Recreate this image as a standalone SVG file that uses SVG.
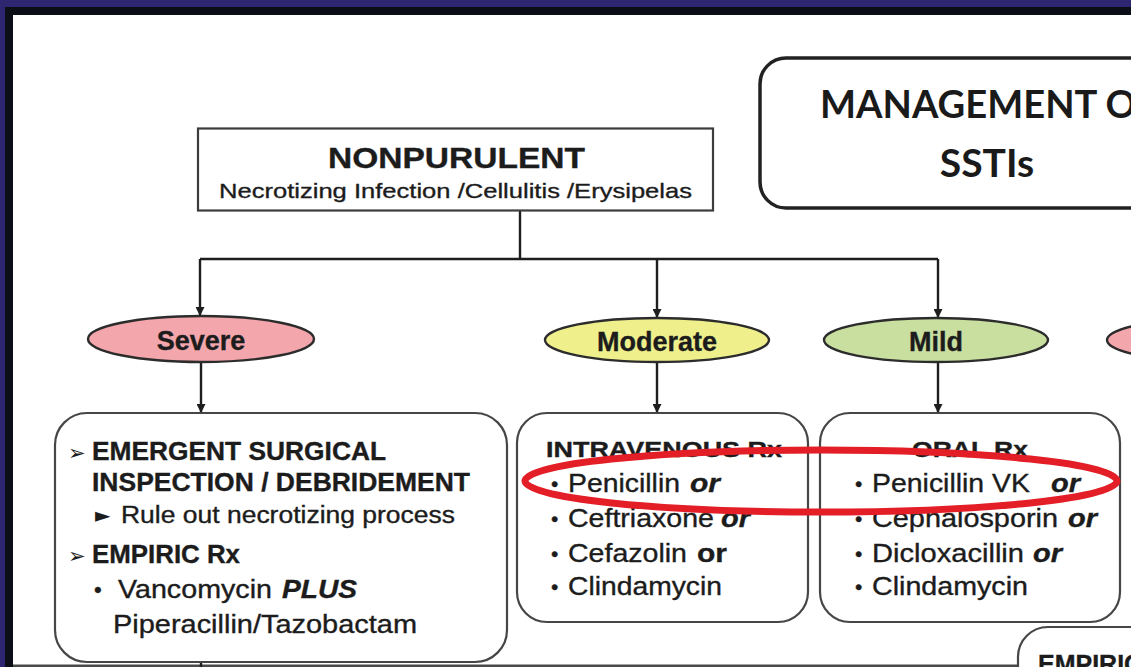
<svg xmlns="http://www.w3.org/2000/svg" width="1131" height="667" viewBox="0 0 1131 667">
  <defs>
    <marker id="arrow" viewBox="0 0 10 10" refX="10" refY="5" markerWidth="9" markerHeight="9" markerUnits="userSpaceOnUse" orient="auto">
      <path d="M0,0 L10,5 L0,10 Z" fill="#1e1e1e"/>
    </marker>
    <style>
      .frame-outer { fill: #2f2672; }
      .frame-inner { fill: #0b0e17; }
      .sheet { fill: #ffffff; }
      .title-box { fill: #ffffff; stroke: #222222; stroke-width: 3.5; }
      .head-box { fill: #ffffff; stroke: #3c3c3c; stroke-width: 2.2; }
      .rx-box { fill: #ffffff; stroke: #464646; stroke-width: 2.2; }
      .grade { stroke: #2c2c2c; stroke-width: 2.4; }
      .wire { fill: none; stroke: #1e1e1e; stroke-width: 2.4; }
      .mark { fill: none; stroke: #e31e26; stroke-width: 7; }
      .title { font-family: Lato, "Open Sans", sans-serif; font-weight: 700; font-size: 39px; fill: #1a1a1a; }
      .t { font-family: "Liberation Sans", Arial, sans-serif; fill: #1c1c1c; stroke: #1c1c1c; stroke-width: 0.35; }
      .b { font-weight: 700; }
      .bi { font-weight: 700; font-style: italic; }
      .sym { font-family: "DejaVu Sans", sans-serif; fill: #1c1c1c; }
    </style>
  </defs>

  <!-- slide frame -->
  <rect class="frame-outer" x="0" y="0" width="1131" height="667"/>
  <rect class="frame-inner" x="5" y="7" width="1126" height="660"/>
  <rect class="sheet" x="13" y="15" width="1118" height="650"/>
  <rect x="13" y="664.5" width="1118" height="2.5" fill="#4a4a4a"/>

  <!-- connectors -->
  <g id="connectors">
    <path class="wire" d="M520,210 V259"/>
    <path class="wire" d="M200,259 H938"/>
    <path class="wire" d="M200,259 V316" marker-end="url(#arrow)"/>
    <path class="wire" d="M657,259 V318" marker-end="url(#arrow)"/>
    <path class="wire" d="M938,259 V318" marker-end="url(#arrow)"/>
    <path class="wire" d="M201,362 V413" marker-end="url(#arrow)"/>
    <path class="wire" d="M657,362 V413" marker-end="url(#arrow)"/>
    <path class="wire" d="M938,362 V413" marker-end="url(#arrow)"/>
    <path class="wire" d="M201,662 V667"/>
  </g>

  <!-- title -->
  <g id="title">
    <rect class="title-box" x="760" y="58" width="460" height="150" rx="26"/>
    <text class="title" x="820" y="118" textLength="338" lengthAdjust="spacingAndGlyphs">MANAGEMENT OF</text>
    <text class="title" x="987" y="177" text-anchor="middle">SSTIs</text>
  </g>

  <!-- nonpurulent header -->
  <g id="nonpurulent">
    <rect class="head-box" x="198" y="128.5" width="515" height="82"/>
    <text class="t b" x="328" y="168" font-size="30" textLength="257" lengthAdjust="spacingAndGlyphs">NONPURULENT</text>
    <text class="t" x="219" y="198" font-size="21" textLength="473" lengthAdjust="spacingAndGlyphs">Necrotizing Infection /Cellulitis /Erysipelas</text>
  </g>

  <!-- severity grades -->
  <g id="severe">
    <ellipse class="grade" cx="201" cy="339" rx="113" ry="23" fill="#f3a6ab"/>
    <text class="t b" x="201" y="350" font-size="27" text-anchor="middle" fill="#2a1414">Severe</text>
  </g>
  <g id="moderate">
    <ellipse class="grade" cx="657" cy="340" rx="112" ry="22" fill="#eff08c"/>
    <text class="t b" x="657" y="351" font-size="27" text-anchor="middle" fill="#1e1e08">Moderate</text>
  </g>
  <g id="mild">
    <ellipse class="grade" cx="936" cy="340" rx="112" ry="22" fill="#c9dfa0"/>
    <text class="t b" x="936" y="351" font-size="27" text-anchor="middle" fill="#10240e">Mild</text>
  </g>
  <g id="purulent-severe">
    <ellipse class="grade" cx="1220" cy="340" rx="113" ry="22" fill="#f3a6ab"/>
  </g>

  <!-- severe treatment -->
  <g id="severe-rx">
    <rect class="rx-box" x="55" y="413" width="452" height="249" rx="32"/>
    <text class="sym" x="68" y="460" font-size="21">➢</text>
    <text class="t b" x="92" y="460" font-size="25" textLength="294" lengthAdjust="spacingAndGlyphs">EMERGENT SURGICAL</text>
    <text class="t b" x="92" y="491" font-size="25" textLength="378" lengthAdjust="spacingAndGlyphs">INSPECTION / DEBRIDEMENT</text>
    <text class="sym" x="95" y="522" font-size="20">►</text>
    <text class="t" x="121" y="523" font-size="23" textLength="334" lengthAdjust="spacingAndGlyphs">Rule out necrotizing process</text>
    <text class="sym" x="68" y="563" font-size="21">➢</text>
    <text class="t b" x="92" y="563" font-size="25" textLength="148" lengthAdjust="spacingAndGlyphs">EMPIRIC Rx</text>
    <text class="t" x="94" y="597" font-size="22">•</text>
    <text class="t" x="118" y="598" font-size="25" textLength="154" lengthAdjust="spacingAndGlyphs">Vancomycin</text>
    <text class="t bi" x="282" y="598" font-size="25" textLength="75" lengthAdjust="spacingAndGlyphs">PLUS</text>
    <text class="t" x="113" y="633" font-size="25" textLength="304" lengthAdjust="spacingAndGlyphs">Piperacillin/Tazobactam</text>
  </g>

  <!-- moderate treatment -->
  <g id="moderate-rx">
    <rect class="rx-box" x="517" y="413" width="291" height="209" rx="30"/>
    <text class="t b" x="546" y="457" font-size="22" textLength="236" lengthAdjust="spacingAndGlyphs">INTRAVENOUS Rx</text>
    <text class="t" x="551" y="491" font-size="21">•</text>
    <text class="t" x="568" y="492" font-size="25" textLength="112" lengthAdjust="spacingAndGlyphs">Penicillin</text>
    <text class="t bi" x="690" y="492" font-size="25" textLength="30" lengthAdjust="spacingAndGlyphs">or</text>
    <text class="t" x="551" y="526" font-size="21">•</text>
    <text class="t" x="568" y="527" font-size="25" textLength="146" lengthAdjust="spacingAndGlyphs">Ceftriaxone</text>
    <text class="t bi" x="721" y="527" font-size="25" textLength="29" lengthAdjust="spacingAndGlyphs">or</text>
    <text class="t" x="551" y="561" font-size="21">•</text>
    <text class="t" x="568" y="562" font-size="25" textLength="119" lengthAdjust="spacingAndGlyphs">Cefazolin</text>
    <text class="t b" x="697" y="562" font-size="25" textLength="30" lengthAdjust="spacingAndGlyphs">or</text>
    <text class="t" x="551" y="594" font-size="21">•</text>
    <text class="t" x="568" y="595" font-size="25" textLength="154" lengthAdjust="spacingAndGlyphs">Clindamycin</text>
  </g>

  <!-- mild treatment -->
  <g id="mild-rx">
    <rect class="rx-box" x="820" y="413" width="300" height="209" rx="30"/>
    <text class="t b" x="970" y="457" font-size="22" text-anchor="middle" textLength="116" lengthAdjust="spacingAndGlyphs">ORAL Rx</text>
    <text class="t" x="855" y="491" font-size="21">•</text>
    <text class="t" x="872" y="492" font-size="25" textLength="158" lengthAdjust="spacingAndGlyphs">Penicillin VK</text>
    <text class="t bi" x="1051" y="492" font-size="25" textLength="29" lengthAdjust="spacingAndGlyphs">or</text>
    <text class="t" x="855" y="526" font-size="21">•</text>
    <text class="t" x="872" y="527" font-size="25" textLength="186" lengthAdjust="spacingAndGlyphs">Cephalosporin</text>
    <text class="t bi" x="1068" y="527" font-size="25" textLength="29" lengthAdjust="spacingAndGlyphs">or</text>
    <text class="t" x="855" y="561" font-size="21">•</text>
    <text class="t" x="872" y="562" font-size="25" textLength="152" lengthAdjust="spacingAndGlyphs">Dicloxacillin</text>
    <text class="t bi" x="1033" y="562" font-size="25" textLength="29" lengthAdjust="spacingAndGlyphs">or</text>
    <text class="t" x="855" y="594" font-size="21">•</text>
    <text class="t" x="872" y="595" font-size="25" textLength="156" lengthAdjust="spacingAndGlyphs">Clindamycin</text>
  </g>

  <!-- purulent empiric box (continues below the sheet edge) -->
  <g id="purulent-rx">
    <rect class="rx-box" x="1018" y="627" width="300" height="120" rx="30"/>
    <text class="t b" x="1038" y="673" font-size="25">EMPIRIC</text>
  </g>

  <!-- highlight ring -->
  <ellipse class="mark" cx="821" cy="481" rx="296" ry="31"/>
</svg>
